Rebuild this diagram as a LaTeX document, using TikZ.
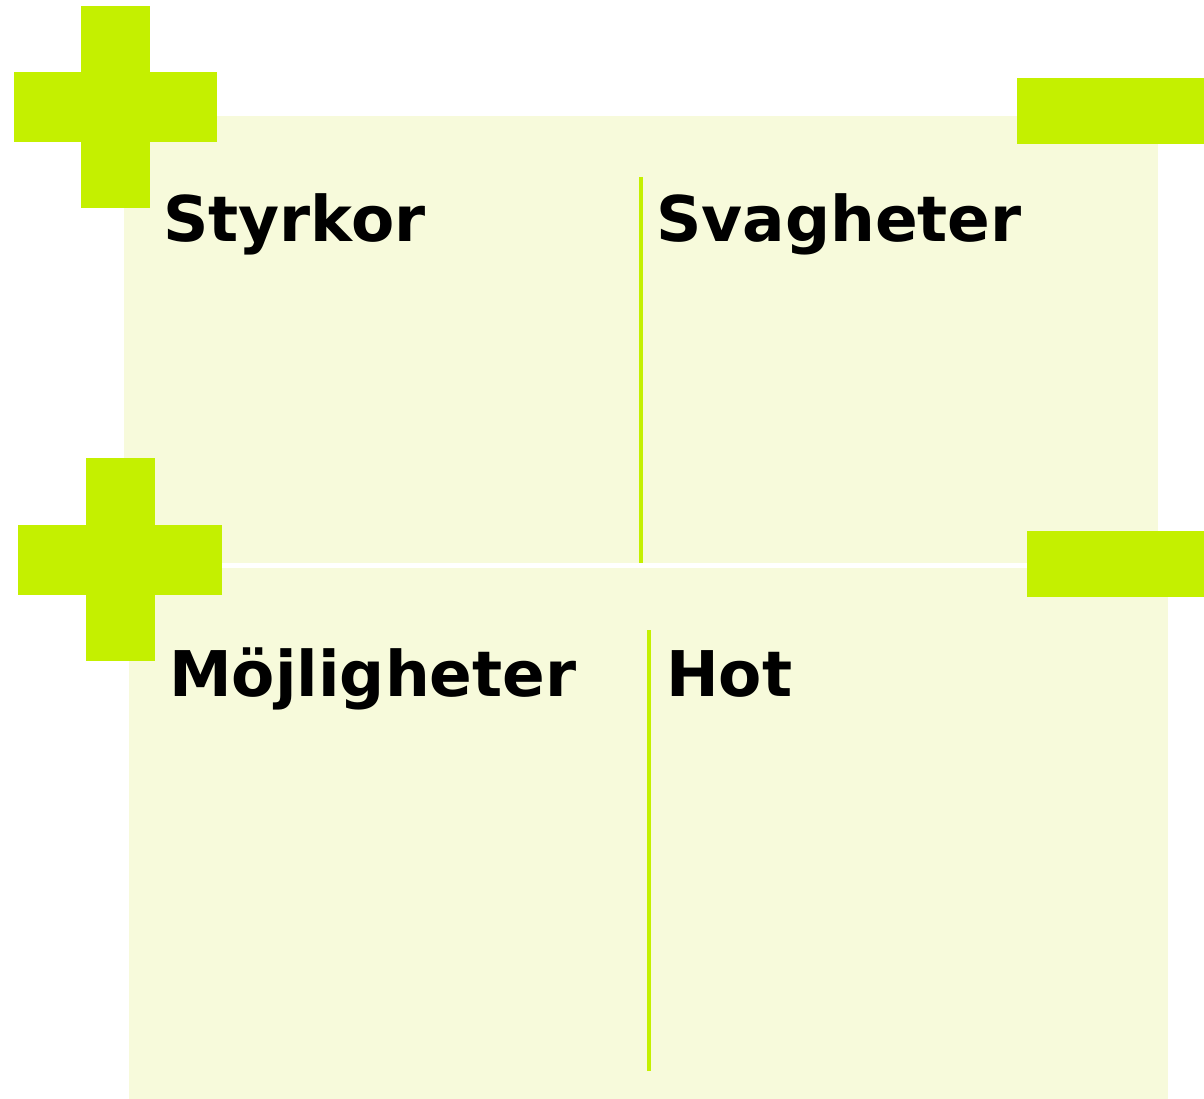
\documentclass[tikz,border=0pt]{standalone}
\usepackage{fontspec}
\setmainfont{DejaVu Sans}
\usepackage{xcolor}
\usepackage{tikz}
\usetikzlibrary{positioning}
\definecolor{lime}{HTML}{C4F000}
\definecolor{paper}{HTML}{F7FADB}

\begin{document}
\begin{tikzpicture}[
  x=1pt,y=-1pt,
  panel/.style={fill=paper,draw=none},
  bar/.style={fill=lime,draw=none},
  divider/.style={draw=lime,line width=4.5pt},
  head/.style={anchor=base west,inner sep=0pt,
               font=\fontsize{63}{76}\selectfont\bfseries}
]
\useasboundingbox (0,0) rectangle (1204,1099);
% panels
\fill[panel] (124,116) rectangle (1158,563);
\fill[panel] (129,568) rectangle (1168,1099);
% plus and minus signs
\fill[bar] (81,6) rectangle (150,208);
\fill[bar] (14,72) rectangle (217,142);
\fill[bar] (1017,78) rectangle (1204,144);
\fill[bar] (86,458) rectangle (155,661);
\fill[bar] (18,525) rectangle (222,595);
\fill[bar] (1027,531) rectangle (1204,597);
% dividers
\coordinate (topA) at (641,177);
\coordinate (topB) at (641,563);
\coordinate (botA) at (649,630);
\coordinate (botB) at (649,1071);
\draw[divider] (topA) -- (topB);
\draw[divider] (botA) -- (botB);
% headings
\node[head] (strength) at (163,242) {Styrkor};
\node[head] (weakness) at (656,242) {Svagheter};
\node[head] (chance) at (169,696) {Möjligheter};
\node[head] (threat) at (666,696) {Hot};
\end{tikzpicture}
\end{document}
